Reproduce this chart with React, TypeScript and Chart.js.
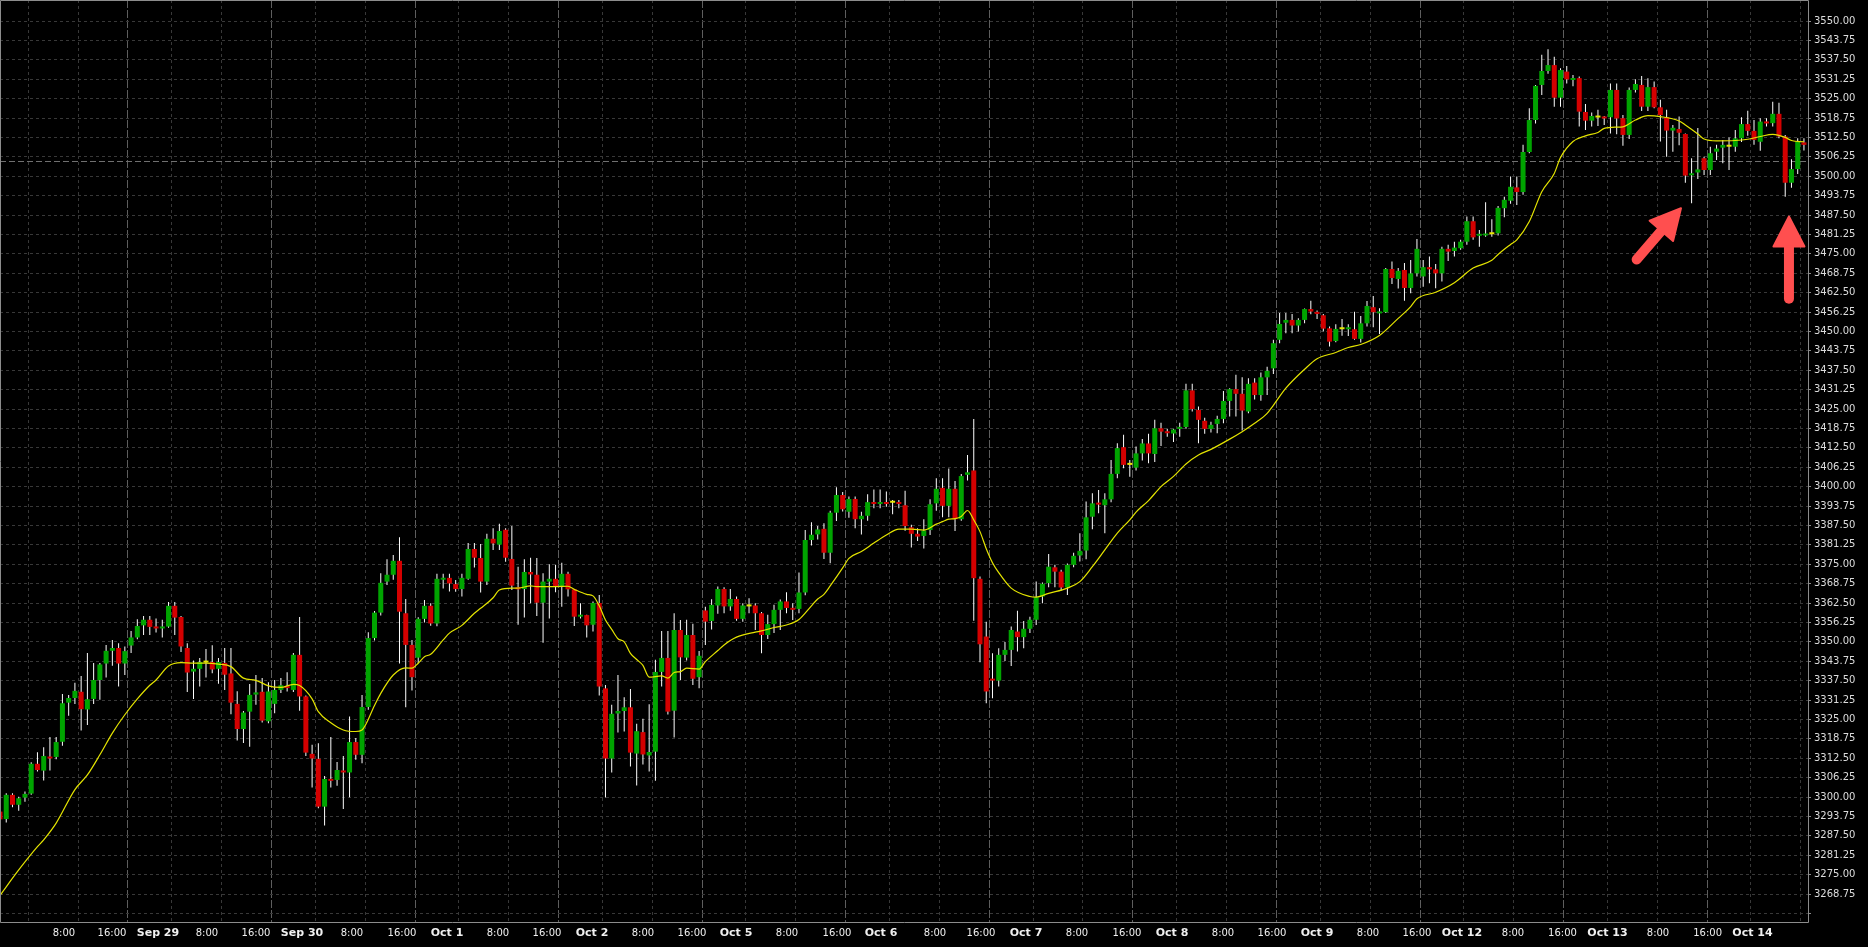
import React, { useEffect, useRef } from 'react';
import { Chart, registerables } from 'chart.js';

Chart.register(...registerables);

// ---- Hourly OHLC (one entry per bar) ----
const OPEN = [
  3295.3, 3292.9, 3300.7, 3297.5, 3299.8, 3301.1, 3310.7, 3308.5, 3312.9, 3312.9,
  3317.8, 3330.4, 3331.9, 3333.9, 3328.2, 3331.6, 3337.7, 3343.0, 3347.1, 3348.0,
  3343.0, 3348.8, 3351.4, 3355.3, 3357.1, 3354.8, 3354.3, 3354.9, 3361.6, 3358.0,
  3348.0, 3340.4, 3341.3, 3343.3, 3343.5, 3341.3, 3343.2, 3339.8, 3330.0, 3321.9,
  3327.5, 3333.0, 3333.9, 3324.4, 3330.0, 3334.5, 3335.6, 3334.5, 3345.8, 3332.4,
  3313.9, 3312.3, 3296.9, 3305.7, 3305.5, 3308.4, 3307.9, 3317.7, 3313.6, 3329.0,
  3351.2, 3359.4, 3369.4, 3371.6, 3376.1, 3359.2, 3349.0, 3344.9, 3357.4, 3361.6,
  3355.9, 3370.0, 3370.6, 3368.6, 3367.0, 3370.3, 3379.9, 3377.0, 3369.4, 3383.2,
  3381.3, 3386.1, 3376.7, 3367.5, 3367.0, 3372.5, 3371.6, 3362.6, 3369.4, 3370.3,
  3368.0, 3371.9, 3366.9, 3358.1, 3358.6, 3355.5, 3362.5, 3335.0, 3312.4, 3326.9,
  3327.7, 3328.9, 3314.0, 3320.9, 3313.4, 3314.6, 3340.3, 3344.8, 3327.8, 3353.8,
  3344.9, 3352.2, 3338.6, 3360.1, 3356.7, 3361.7, 3367.0, 3361.4, 3363.8, 3357.4,
  3361.4, 3361.7, 3359.2, 3352.2, 3355.7, 3360.3, 3363.0, 3360.9, 3360.6, 3365.9,
  3382.8, 3384.6, 3386.4, 3378.7, 3391.6, 3397.3, 3391.9, 3396.0, 3389.5, 3390.6,
  3395.0, 3394.4, 3395.0, 3394.8, 3395.0, 3394.0, 3386.9, 3384.8, 3384.1, 3386.0,
  3394.6, 3399.6, 3393.8, 3399.3, 3389.5, 3403.8, 3405.2, 3370.3, 3351.7, 3337.9,
  3337.5, 3345.8, 3347.4, 3353.3, 3351.5, 3354.2, 3357.1, 3364.6, 3368.9, 3374.0,
  3372.6, 3367.5, 3374.8, 3377.8, 3379.4, 3390.3, 3394.6, 3394.0, 3395.9, 3404.1,
  3412.7, 3407.0, 3406.1, 3410.7, 3413.9, 3410.5, 3418.8, 3417.7, 3417.1, 3418.6,
  3419.2, 3431.0, 3424.7, 3421.2, 3418.6, 3420.2, 3421.8, 3427.6, 3431.4, 3429.9,
  3424.2, 3433.5, 3429.5, 3435.2, 3438.1, 3447.3, 3452.8, 3453.7, 3451.9, 3453.7,
  3457.2, 3456.3, 3455.2, 3451.0, 3446.9, 3450.7, 3450.7, 3450.7, 3447.6, 3452.6,
  3457.8, 3455.8, 3456.2, 3470.1, 3466.9, 3469.8, 3464.0, 3468.7, 3467.7, 3470.7,
  3470.0, 3468.7, 3476.6, 3475.9, 3476.8, 3478.9, 3485.5, 3480.8, 3480.9, 3481.3,
  3481.6, 3489.7, 3492.1, 3496.4, 3494.9, 3507.8, 3518.1, 3529.4, 3533.9, 3535.8,
  3525.3, 3533.7, 3531.0, 3531.6, 3520.7, 3517.9, 3518.9, 3519.0, 3519.0, 3527.8,
  3518.7, 3513.3, 3527.8, 3529.4, 3522.4, 3528.7, 3522.2, 3519.0, 3514.7, 3515.2,
  3513.6, 3500.3, 3501.2, 3505.8, 3502.0, 3507.9, 3509.2, 3509.5, 3509.5, 3512.2,
  3516.8, 3514.6, 3511.1, 3517.6, 3517.1, 3520.1, 3512.8, 3497.9, 3502.3, 3510.9,
];
const HIGH = [
  3296.5, 3301.2, 3301.2, 3300.1, 3301.8, 3311.2, 3314.4, 3316.0, 3319.3, 3319.3,
  3333.2, 3332.9, 3336.8, 3339.0, 3346.4, 3343.2, 3343.2, 3349.0, 3350.6, 3349.5,
  3348.5, 3353.5, 3357.3, 3358.3, 3358.3, 3357.5, 3357.1, 3362.8, 3362.8, 3358.3,
  3349.5, 3344.0, 3344.8, 3347.7, 3348.9, 3344.8, 3348.0, 3348.0, 3334.1, 3327.7,
  3336.4, 3339.3, 3338.3, 3337.0, 3337.7, 3338.3, 3340.2, 3346.4, 3358.0, 3332.7,
  3316.8, 3317.3, 3306.8, 3319.3, 3311.3, 3313.2, 3325.9, 3319.0, 3332.9, 3353.1,
  3359.9, 3372.1, 3376.6, 3378.0, 3383.7, 3363.8, 3350.6, 3357.9, 3363.5, 3362.4,
  3371.9, 3371.9, 3371.9, 3369.9, 3371.9, 3381.8, 3381.8, 3381.5, 3384.8, 3386.6,
  3388.0, 3386.6, 3387.3, 3374.2, 3376.6, 3377.1, 3377.0, 3372.1, 3375.0, 3374.8,
  3375.5, 3372.6, 3367.0, 3362.4, 3358.7, 3363.0, 3365.1, 3336.1, 3329.7, 3339.3,
  3332.1, 3334.8, 3323.6, 3325.2, 3329.9, 3344.2, 3353.5, 3353.5, 3359.2, 3357.0,
  3357.1, 3355.8, 3347.0, 3361.3, 3363.7, 3367.8, 3367.6, 3367.0, 3364.6, 3362.4,
  3364.0, 3362.4, 3359.6, 3358.7, 3361.9, 3363.6, 3366.0, 3362.4, 3372.3, 3386.0,
  3388.5, 3387.3, 3388.2, 3392.2, 3399.8, 3398.3, 3396.8, 3396.8, 3391.9, 3397.5,
  3399.1, 3399.1, 3398.4, 3395.7, 3395.7, 3398.7, 3387.7, 3386.6, 3389.5, 3395.9,
  3402.7, 3402.7, 3405.8, 3401.8, 3404.1, 3410.2, 3421.8, 3371.0, 3356.5, 3346.3,
  3347.9, 3349.9, 3354.9, 3360.0, 3356.7, 3358.1, 3369.4, 3369.1, 3378.3, 3374.8,
  3373.2, 3375.2, 3378.7, 3385.0, 3395.2, 3397.9, 3398.9, 3397.9, 3408.6, 3414.0,
  3416.7, 3408.6, 3412.9, 3415.3, 3417.0, 3421.5, 3420.6, 3418.6, 3418.6, 3420.6,
  3433.1, 3433.1, 3425.8, 3422.2, 3420.9, 3422.8, 3430.8, 3431.7, 3436.0, 3435.2,
  3434.9, 3434.9, 3436.8, 3438.6, 3447.3, 3455.9, 3455.9, 3455.6, 3454.2, 3457.4,
  3459.9, 3456.7, 3455.6, 3451.6, 3452.3, 3454.0, 3452.3, 3456.3, 3455.0, 3459.8,
  3461.4, 3457.5, 3470.4, 3472.5, 3470.4, 3472.0, 3473.0, 3479.8, 3473.0, 3474.1,
  3471.7, 3477.3, 3477.9, 3478.9, 3479.5, 3487.0, 3487.0, 3482.7, 3491.6, 3486.1,
  3490.4, 3493.4, 3499.9, 3499.9, 3510.1, 3521.9, 3529.4, 3539.1, 3540.9, 3538.5,
  3534.8, 3535.5, 3532.6, 3532.1, 3523.3, 3520.5, 3521.4, 3519.4, 3529.9, 3529.9,
  3519.7, 3528.6, 3531.2, 3532.3, 3531.6, 3530.5, 3524.6, 3521.4, 3516.5, 3519.2,
  3513.8, 3505.8, 3515.5, 3506.3, 3509.5, 3510.1, 3511.7, 3512.5, 3514.9, 3519.0,
  3521.1, 3518.1, 3518.7, 3518.7, 3524.0, 3523.7, 3513.3, 3505.5, 3512.2, 3512.2,
];
const LOW = [
  3292.0, 3291.8, 3296.7, 3295.6, 3298.5, 3300.7, 3308.2, 3305.3, 3308.5, 3312.2,
  3316.5, 3326.2, 3330.0, 3321.4, 3323.2, 3330.0, 3331.3, 3338.5, 3342.3, 3335.6,
  3339.3, 3346.4, 3350.8, 3352.2, 3352.2, 3353.0, 3351.4, 3354.5, 3352.2, 3346.7,
  3333.8, 3331.6, 3335.6, 3338.5, 3339.9, 3336.5, 3334.5, 3326.7, 3318.2, 3317.4,
  3316.2, 3329.7, 3324.0, 3323.8, 3327.0, 3333.5, 3334.0, 3333.8, 3327.8, 3313.2,
  3303.1, 3296.4, 3290.8, 3303.1, 3303.6, 3296.1, 3299.9, 3312.0, 3310.9, 3328.1,
  3350.4, 3358.5, 3368.3, 3370.0, 3343.0, 3328.9, 3334.3, 3343.1, 3356.2, 3355.2,
  3355.0, 3367.2, 3366.2, 3366.1, 3364.6, 3370.0, 3373.9, 3365.9, 3368.3, 3379.6,
  3379.6, 3375.8, 3366.7, 3355.5, 3357.8, 3362.4, 3358.3, 3349.7, 3357.5, 3366.0,
  3361.3, 3364.6, 3355.1, 3357.5, 3351.4, 3353.3, 3332.7, 3299.8, 3307.9, 3320.8,
  3321.1, 3309.8, 3303.7, 3310.5, 3308.2, 3305.2, 3335.6, 3326.6, 3319.2, 3337.7,
  3344.0, 3336.1, 3335.0, 3349.0, 3354.0, 3359.0, 3359.2, 3360.0, 3356.8, 3356.5,
  3359.2, 3353.8, 3346.3, 3350.9, 3352.8, 3353.8, 3359.2, 3357.0, 3359.2, 3365.0,
  3381.0, 3383.0, 3376.7, 3375.3, 3388.9, 3392.0, 3390.0, 3386.6, 3384.6, 3389.0,
  3393.0, 3393.0, 3393.5, 3391.1, 3393.0, 3385.8, 3380.4, 3382.5, 3380.1, 3384.4,
  3392.2, 3390.1, 3390.1, 3385.7, 3389.0, 3402.0, 3356.8, 3343.4, 3330.2, 3331.8,
  3335.6, 3343.8, 3342.2, 3346.9, 3347.9, 3352.8, 3355.4, 3362.4, 3367.6, 3367.6,
  3366.5, 3365.1, 3374.0, 3375.9, 3376.6, 3386.3, 3391.4, 3385.0, 3395.0, 3402.7,
  3405.9, 3403.2, 3405.2, 3408.4, 3407.5, 3407.9, 3413.1, 3416.1, 3414.4, 3416.1,
  3418.6, 3424.2, 3414.0, 3417.0, 3417.4, 3417.2, 3420.4, 3422.6, 3422.6, 3418.1,
  3423.6, 3428.1, 3427.7, 3429.5, 3436.3, 3446.2, 3449.4, 3449.4, 3450.0, 3452.6,
  3455.5, 3454.0, 3450.0, 3445.1, 3446.5, 3448.6, 3448.5, 3447.3, 3446.4, 3451.6,
  3451.3, 3449.2, 3455.9, 3465.3, 3463.8, 3459.9, 3462.3, 3467.7, 3464.4, 3465.5,
  3463.9, 3466.1, 3472.7, 3474.1, 3476.3, 3477.9, 3479.5, 3477.3, 3480.5, 3480.5,
  3480.9, 3486.8, 3491.1, 3490.7, 3494.0, 3507.4, 3517.0, 3526.2, 3533.0, 3522.4,
  3522.4, 3529.9, 3529.0, 3516.0, 3514.9, 3516.0, 3516.2, 3516.5, 3513.8, 3513.5,
  3509.8, 3512.0, 3527.0, 3521.0, 3521.0, 3521.9, 3511.2, 3506.3, 3507.9, 3510.0,
  3497.9, 3491.3, 3499.1, 3500.4, 3500.4, 3505.2, 3504.2, 3502.0, 3507.9, 3511.0,
  3513.0, 3510.1, 3508.2, 3516.0, 3516.0, 3512.2, 3493.4, 3496.3, 3500.7, 3508.3,
];
const CLOSE = [
  3292.8, 3300.7, 3297.5, 3299.6, 3301.0, 3310.7, 3308.7, 3313.2, 3312.4, 3317.7,
  3330.2, 3331.9, 3334.2, 3328.3, 3331.5, 3337.7, 3342.7, 3347.1, 3348.0, 3343.0,
  3347.0, 3351.4, 3355.1, 3357.1, 3354.8, 3354.3, 3354.9, 3361.6, 3357.8, 3348.5,
  3340.1, 3341.3, 3343.5, 3343.3, 3341.1, 3343.5, 3339.4, 3330.4, 3321.9, 3327.2,
  3332.9, 3333.7, 3324.6, 3334.0, 3334.5, 3336.0, 3335.1, 3345.8, 3332.4, 3314.3,
  3312.4, 3296.9, 3305.8, 3305.2, 3308.7, 3307.9, 3317.7, 3313.6, 3329.0, 3351.2,
  3359.4, 3369.0, 3371.6, 3376.1, 3359.7, 3349.0, 3338.6, 3357.4, 3361.6, 3355.9,
  3370.3, 3370.6, 3368.8, 3367.0, 3370.6, 3379.9, 3377.1, 3369.4, 3383.2, 3381.7,
  3385.7, 3377.1, 3368.1, 3366.9, 3372.5, 3371.7, 3362.6, 3369.4, 3370.3, 3368.0,
  3371.9, 3366.9, 3358.1, 3358.6, 3355.3, 3362.5, 3335.6, 3312.4, 3326.8, 3327.7,
  3328.9, 3314.3, 3321.2, 3313.7, 3314.5, 3340.3, 3344.8, 3327.5, 3353.8, 3345.0,
  3352.2, 3338.1, 3345.5, 3356.5, 3361.9, 3367.0, 3361.4, 3363.8, 3357.4, 3361.7,
  3361.4, 3359.2, 3352.2, 3355.7, 3360.3, 3363.0, 3360.9, 3360.3, 3365.9, 3382.8,
  3384.5, 3386.2, 3378.7, 3391.6, 3397.3, 3392.7, 3396.0, 3389.5, 3390.6, 3395.0,
  3394.4, 3395.0, 3394.4, 3394.8, 3394.4, 3387.3, 3384.8, 3383.9, 3385.8, 3394.3,
  3399.3, 3393.8, 3399.3, 3389.5, 3403.4, 3404.6, 3370.5, 3349.2, 3334.0, 3337.5,
  3345.8, 3347.4, 3353.8, 3351.5, 3354.2, 3357.1, 3364.4, 3368.7, 3374.2, 3372.6,
  3367.5, 3374.8, 3377.7, 3379.3, 3390.1, 3394.6, 3394.2, 3395.9, 3404.1, 3412.4,
  3407.0, 3407.0, 3410.7, 3413.9, 3410.7, 3418.8, 3417.7, 3417.2, 3418.4, 3419.2,
  3431.0, 3425.0, 3421.5, 3418.6, 3419.9, 3421.8, 3427.6, 3431.4, 3429.9, 3424.5,
  3433.1, 3429.5, 3435.2, 3437.3, 3446.2, 3452.4, 3453.7, 3451.9, 3453.7, 3457.2,
  3456.4, 3455.6, 3450.9, 3446.7, 3450.8, 3450.7, 3451.1, 3447.6, 3452.6, 3458.2,
  3456.2, 3456.2, 3470.1, 3467.2, 3469.5, 3464.0, 3468.7, 3476.6, 3470.7, 3470.0,
  3468.7, 3476.6, 3475.7, 3477.0, 3478.9, 3485.5, 3480.3, 3481.3, 3481.4, 3481.3,
  3489.8, 3492.4, 3496.6, 3494.9, 3507.8, 3518.1, 3529.1, 3533.9, 3535.8, 3525.3,
  3534.2, 3531.2, 3531.6, 3520.8, 3517.9, 3519.4, 3518.9, 3518.6, 3527.8, 3518.6,
  3513.3, 3527.8, 3529.7, 3522.4, 3528.7, 3522.2, 3519.7, 3514.7, 3515.6, 3514.0,
  3500.2, 3500.9, 3502.2, 3502.0, 3507.4, 3508.9, 3510.1, 3509.5, 3512.2, 3516.8,
  3514.6, 3511.7, 3517.6, 3517.0, 3520.1, 3512.8, 3497.9, 3502.3, 3511.1, 3510.1,
];

// ---- Moving average (yellow) at these bars ----
const MA_BAR = [
  0, 3, 6, 7, 9, 12, 14, 16, 18, 20, 22, 24, 25, 27, 29, 31, 33, 35, 37, 39,
  41, 43, 45, 47, 48, 50, 51, 53, 55, 57, 58, 60, 61, 63, 65, 66, 67, 68, 69, 71,
  72, 74, 76, 77, 79, 80, 82, 83, 85, 86, 89, 91, 92, 94, 95, 96, 97, 98, 99, 100,
  101, 102, 103, 104, 106, 107, 108, 109, 110, 112, 113, 115, 116, 118, 121, 122, 124, 126, 128, 130,
  131, 132, 133, 135, 136, 138, 140, 142, 144, 146, 148, 150, 151, 152, 153, 154, 155, 156, 157, 158,
  159, 160, 162, 165, 166, 168, 171, 173, 175, 177, 179, 181, 182, 184, 186, 188, 190, 192, 194, 197,
  199, 201, 203, 204, 206, 209, 211, 214, 216, 218, 221, 224, 226, 227, 230, 233, 236, 239, 240, 242,
  243, 245, 247, 249, 250, 252, 254, 256, 257, 259, 260, 262, 264, 266, 269, 270, 272, 273, 275, 278,
  280, 282, 284, 286, 287, 289,
];
const MA_VALUE = [
  3268.3, 3276.5, 3284.0, 3286.2, 3291.6, 3302.4, 3307.1, 3313.6, 3320.6, 3326.5, 3331.6, 3336.0, 3337.7, 3342.2, 3343.3, 3343.1, 3343.1, 3342.8, 3342.0, 3338.3,
  3337.6, 3335.8, 3335.3, 3336.3, 3335.9, 3331.6, 3327.5, 3323.9, 3321.6, 3321.1, 3321.6, 3329.5, 3333.4, 3339.3, 3341.6, 3341.5, 3343.1, 3345.2, 3346.0, 3350.6,
  3352.8, 3355.3, 3359.2, 3360.8, 3364.2, 3366.7, 3367.3, 3367.3, 3368.0, 3367.8, 3367.8, 3367.9, 3366.9, 3365.3, 3364.8, 3361.6, 3357.0, 3354.0, 3351.0, 3350.0,
  3346.3, 3344.3, 3342.4, 3338.6, 3339.0, 3338.3, 3340.1, 3340.4, 3341.5, 3341.2, 3343.6, 3347.2, 3349.0, 3351.5, 3353.1, 3353.5, 3354.6, 3355.4, 3357.2, 3361.6,
  3363.8, 3365.3, 3368.0, 3373.8, 3376.9, 3379.1, 3381.8, 3384.4, 3386.3, 3386.3, 3386.0, 3387.9, 3388.7, 3389.5, 3389.7, 3390.4, 3392.3, 3389.3, 3385.5, 3380.0,
  3375.5, 3372.3, 3367.3, 3364.6, 3364.4, 3365.6, 3367.3, 3369.4, 3374.2, 3379.6, 3385.0, 3389.3, 3391.8, 3395.5, 3400.0, 3403.3, 3407.3, 3410.2, 3412.0, 3415.3,
  3417.7, 3420.4, 3423.6, 3426.2, 3431.7, 3437.8, 3441.2, 3443.2, 3444.8, 3445.8, 3448.7, 3454.2, 3458.0, 3460.5, 3462.6, 3465.7, 3470.4, 3472.9, 3474.8, 3478.0,
  3479.5, 3485.4, 3495.0, 3500.9, 3506.0, 3511.2, 3513.0, 3514.1, 3515.4, 3515.8, 3515.9, 3518.1, 3519.5, 3519.2, 3517.8, 3516.5, 3513.6, 3512.0, 3511.4, 3511.5,
  3511.9, 3512.8, 3513.5, 3512.5, 3511.5, 3511.1,
];

// ---- Time axis labels and the bar they sit on ----
const TICK_TEXT = [
  '8:00', '16:00', 'Sep 29', '8:00', '16:00', 'Sep 30', '8:00', '16:00', 'Oct 1',
  '8:00', '16:00', 'Oct 2', '8:00', '16:00', 'Oct 5', '8:00', '16:00', 'Oct 6',
  '8:00', '16:00', 'Oct 7', '8:00', '16:00', 'Oct 8', '8:00', '16:00', 'Oct 9',
  '8:00', '16:00', 'Oct 12', '8:00', '16:00', 'Oct 13', '8:00', '16:00', 'Oct 14',
];
const TICK_AT = [
  10.25, 17.94, 25.31, 33.16, 41.01, 48.38, 56.39, 64.4, 71.61,
  79.78, 87.63, 94.84, 103.01, 110.86, 117.91, 126.08, 134.09, 141.14,
  149.79, 157.16, 164.37, 172.54, 180.55, 187.76, 195.93, 203.78, 210.99,
  219.16, 227.01, 234.22, 242.39, 250.32, 257.53, 265.62, 273.57, 280.76,
];
// first bar of each trading session (day separators)
const SESSION_START = [21, 44, 67, 90, 113, 136, 159, 182, 205, 228, 251, 274];

// price axis
const PRICE_TOP = 3550;
const PRICE_BOTTOM = 3262.5;
const PRICE_STEP = 6.25;
const BID_PRICE = 3504.9;

// red annotation arrows (bar, price) -> (bar, price)
const ARROWS = [
  { from: [262.2, 3473.2], to: [269.3, 3489.7] },
  { from: [286.6, 3460.5], to: [286.6, 3487.0] },
];

const X_MIN = 0;
const X_MAX = 289.65;
const Y_MIN = 3259.73;
const Y_MAX = 3556.77;

const UP = '#00a400';
const DOWN = '#d40000';
const DOJI = '#e8e800';

function drawArrow(ctx: CanvasRenderingContext2D, x0: number, y0: number, x1: number, y1: number) {
  const dx = x1 - x0;
  const dy = y1 - y0;
  const len = Math.hypot(dx, dy);
  const ux = dx / len;
  const uy = dy / len;
  const headLen = 30;
  const half = 15.5;
  const bx = x1 - ux * headLen;
  const by = y1 - uy * headLen;
  ctx.save();
  ctx.strokeStyle = '#ff4f4f';
  ctx.fillStyle = '#ff4f4f';
  ctx.lineWidth = 10;
  ctx.lineCap = 'round';
  ctx.beginPath();
  ctx.moveTo(x0, y0);
  ctx.lineTo(bx + ux * 4, by + uy * 4);
  ctx.stroke();
  ctx.lineWidth = 2;
  ctx.lineJoin = 'round';
  ctx.beginPath();
  ctx.moveTo(x1, y1);
  ctx.lineTo(bx - uy * half, by + ux * half);
  ctx.lineTo(bx + uy * half, by - ux * half);
  ctx.closePath();
  ctx.fill();
  ctx.stroke();
  ctx.restore();
}

const mt4Plugin = {
  id: 'mt4look',
  beforeDraw(chart: any) {
    const { ctx, width, height } = chart;
    ctx.save();
    ctx.fillStyle = '#000000';
    ctx.fillRect(0, 0, width, height);
    ctx.restore();
  },
  beforeDatasetsDraw(chart: any) {
    const { ctx, chartArea: a, scales } = chart;
    const y = Math.round(scales.y.getPixelForValue(BID_PRICE)) + 0.5;
    ctx.save();
    ctx.strokeStyle = '#707070';
    ctx.lineWidth = 1;
    ctx.setLineDash([6, 3]);
    ctx.beginPath();
    ctx.moveTo(a.left, y);
    ctx.lineTo(a.right, y);
    ctx.stroke();
    ctx.restore();
  },
  afterDatasetsDraw(chart: any) {
    const { ctx, chartArea: a, scales } = chart;
    ctx.save();
    ctx.strokeStyle = '#8c8c8c';
    ctx.lineWidth = 1;
    ctx.setLineDash([]);
    ctx.beginPath();
    ctx.moveTo(a.left + 0.5, a.bottom + 0.5);
    ctx.lineTo(a.left + 0.5, a.top + 0.5);
    ctx.lineTo(a.right + 0.5, a.top + 0.5);
    ctx.lineTo(a.right + 0.5, a.bottom + 0.5);
    ctx.lineTo(a.left + 0.5, a.bottom + 0.5);
    ctx.stroke();
    ctx.restore();
    ARROWS.forEach((ar) => {
      drawArrow(
        ctx,
        scales.x.getPixelForValue(ar.from[0]),
        scales.y.getPixelForValue(ar.from[1]),
        scales.x.getPixelForValue(ar.to[0]),
        scales.y.getPixelForValue(ar.to[1])
      );
    });
  },
};

export default function App() {
  const ref = useRef<HTMLCanvasElement>(null);

  useEffect(() => {
    const bodyColor = (i: number) =>
      CLOSE[i] > OPEN[i] ? UP : CLOSE[i] < OPEN[i] ? DOWN : DOJI;

    const gridPositions: number[] = [];
    const bright = new Set<number>();
    const starts = [SESSION_START[0] - 23, ...SESSION_START];
    starts.forEach((s) => {
      const b = s - 0.5;
      [b, b + 7, b + 15].forEach((g, j) => {
        if (g > X_MIN && g < X_MAX) {
          gridPositions.push(g);
          if (j === 0) bright.add(g);
        }
      });
    });

    const yTicks: number[] = [];
    for (let v = PRICE_BOTTOM; v <= PRICE_TOP + 1e-9; v += PRICE_STEP) yTicks.push(v);

    const chart = new Chart(ref.current as HTMLCanvasElement, {
      type: 'bar',
      data: {
        datasets: [
          {
            type: 'line',
            label: 'MA',
            data: MA_BAR.map((b, i) => ({ x: b, y: MA_VALUE[i] })),
            borderColor: '#e4e400',
            borderWidth: 1.2,
            pointRadius: 0,
            cubicInterpolationMode: 'monotone',
            xAxisID: 'x',
            yAxisID: 'y',
            order: 0,
          } as any,
          {
            type: 'bar',
            label: 'body',
            data: OPEN.map((o, i) => ({ x: i, y: [o, CLOSE[i]] })),
            backgroundColor: (c: any) => bodyColor(c.dataIndex),
            borderWidth: 0,
            barThickness: 5,
            minBarLength: 2,
            grouped: false,
            inflateAmount: 0,
            xAxisID: 'x',
            yAxisID: 'y',
            order: 1,
          } as any,
          {
            type: 'bar',
            label: 'wick',
            data: LOW.map((l, i) => ({ x: i, y: [l, HIGH[i]] })),
            backgroundColor: '#ffffff',
            borderWidth: 0,
            barThickness: 1,
            grouped: false,
            inflateAmount: 0,
            xAxisID: 'x',
            yAxisID: 'y',
            order: 2,
          } as any,
        ],
      },
      options: {
        responsive: false,
        maintainAspectRatio: false,
        animation: false,
        devicePixelRatio: 1,
        layout: { padding: 0 },
        plugins: { legend: { display: false }, tooltip: { enabled: false } },
        scales: {
          x: {
            type: 'linear',
            position: 'bottom',
            min: X_MIN,
            max: X_MAX,
            offset: false,
            bounds: 'data',
            grid: { display: false, drawTicks: false, offset: false },
            border: { display: false },
            afterBuildTicks: (s: any) => {
              s.ticks = TICK_AT.map((v) => ({ value: v }));
            },
            afterFit: (s: any) => {
              s.height = 25;
              s.paddingLeft = 0;
              s.paddingRight = 0;
              s.paddingTop = 0;
              s.paddingBottom = 0;
            },
            ticks: {
              autoSkip: false,
              maxRotation: 0,
              minRotation: 0,
              padding: 5,
              color: '#f0f0f0',
              font: (c: any) => {
                const t = TICK_TEXT[c.index] || '';
                return t.includes(':')
                  ? { family: 'DejaVu Sans', size: 10 }
                  : { family: 'DejaVu Sans', size: 11, weight: 'bold' };
              },
              callback: (_v: any, i: number) => TICK_TEXT[i],
            },
          },
          xg: {
            type: 'linear',
            position: 'bottom',
            min: X_MIN,
            max: X_MAX,
            offset: false,
            bounds: 'data',
            afterBuildTicks: (s: any) => {
              s.ticks = gridPositions.map((v) => ({ value: v }));
            },
            afterFit: (s: any) => {
              s.height = 0;
              s.paddingLeft = 0;
              s.paddingRight = 0;
              s.paddingTop = 0;
              s.paddingBottom = 0;
            },
            ticks: { display: false },
            grid: {
              drawTicks: false,
              offset: false,
              lineWidth: 1,
              color: (c: any) => (c.tick && bright.has(c.tick.value) ? '#5e5e5e' : '#383838'),
            },
            border: {
              display: false,
              dash: (c: any) => (c.tick && bright.has(c.tick.value) ? [8, 2] : [3, 3]),
            },
          },
          y: {
            type: 'linear',
            position: 'right',
            min: Y_MIN,
            max: Y_MAX,
            beginAtZero: false,
            bounds: 'data',
            afterBuildTicks: (s: any) => {
              s.ticks = yTicks.map((v) => ({ value: v }));
            },
            afterFit: (s: any) => {
              s.width = 60;
              s.paddingTop = 0;
              s.paddingBottom = 0;
              s.paddingLeft = 0;
              s.paddingRight = 0;
            },
            grid: {
              color: '#383838',
              lineWidth: 1,
              drawTicks: true,
              tickLength: 3,
              tickColor: '#8c8c8c',
              tickWidth: 1,
            },
            border: { display: false, dash: [3, 3] },
            ticks: {
              autoSkip: false,
              padding: 3,
              color: '#dcdcdc',
              font: { family: 'DejaVu Sans', size: 10 },
              callback: (v: any) => (Number(v) < PRICE_BOTTOM + 1 ? '' : Number(v).toFixed(2)),
            },
          },
        },
      } as any,
      plugins: [mt4Plugin],
    });
    return () => chart.destroy();
  }, []);

  return (
    <div style={{ position: 'fixed', left: 0, top: 0, width: 1868, height: 947, background: '#000' }}>
      <canvas ref={ref} width={1868} height={947} style={{ display: 'block', width: 1868, height: 947 }} />
    </div>
  );
}
